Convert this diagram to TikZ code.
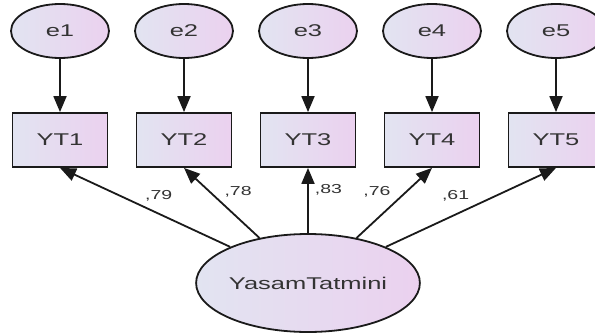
\documentclass[tikz,border=0pt]{standalone}
\usepackage{fontspec}
\newfontfamily\amosfont[FakeStretch=1.5]{Liberation Sans}
\usetikzlibrary{shapes.geometric,arrows.meta}
\definecolor{amosleft}{HTML}{E2E4F1}
\definecolor{amosright}{HTML}{EBD1EF}
\definecolor{amosline}{HTML}{1A1A1A}
\definecolor{amostext}{HTML}{333333}

\begin{document}
\begin{tikzpicture}[x = 1pt, y = 1pt, node distance = 124pt,
  err/.style = {ellipse, draw = amosline, line width = 1.8pt,
    left color = amosleft, right color = amosright, inner sep = 0pt,
    minimum width = 98pt, minimum height = 54pt, text = amostext,
    font = \amosfont\fontsize{17}{20}\selectfont},
  obs/.style = {rectangle, draw = amosline, line width = 1.8pt,
    left color = amosleft, right color = amosright, inner sep = 0pt,
    minimum width = 95pt, minimum height = 54pt, text = amostext,
    font = \amosfont\fontsize{17}{20}\selectfont},
  lat/.style = {ellipse, draw = amosline, line width = 1.8pt,
    left color = amosleft, right color = amosright, inner sep = 0pt,
    minimum width = 196pt, minimum height = 98pt, text = amostext,
    font = \amosfont\fontsize{17}{20}\selectfont},
  regr/.style = {-{Triangle[length = 16pt, width = 13pt]},
    line width = 1.8pt, draw = amosline},
  load/.style = {inner sep = 0pt, text = amostext,
    font = \amosfont\fontsize{13}{15}\selectfont}]
  \useasboundingbox (0,0) rectangle (595,-335);

  % error terms
  \node [err] (e1) at (60,-31) {e1};
  \node [right of = e1, err] (e2) {e2};
  \node [right of = e2, err] (e3) {e3};
  \node [right of = e3, err] (e4) {e4};
  \node [right of = e4, err] (e5) {e5};

  % indicators
  \node [below of = e1, node distance = 109pt, obs] (YT1) {YT1};
  \node [right of = YT1, obs] (YT2) {YT2};
  \node [right of = YT2, obs] (YT3) {YT3};
  \node [right of = YT3, obs] (YT4) {YT4};
  \node [right of = YT4, obs] (YT5) {YT5};

  % latent factor
  \node [below of = YT3, node distance = 143pt, lat] (YT) {YasamTatmini};

  \draw [regr] (e1) -- (YT1);
  \draw [regr] (e2) -- (YT2);
  \draw [regr] (e3) -- (YT3);
  \draw [regr] (e4) -- (YT4);
  \draw [regr] (e5) -- (YT5);

  \draw [regr] (YT) -- (YT1.south)
    node [load, pos = .42, above = 12pt] (l1) {,79};
  \draw [regr] (YT) -- (YT2.south)
    node [load, pos = .66, right = 14pt] (l2) {,78};
  \draw [regr] (YT) -- (YT3.south)
    node [load, pos = .67, right = 6pt] (l3) {,83};
  \draw [regr] (YT) -- (YT4.south)
    node [load, pos = .66, left = 15pt] (l4) {,76};
  \draw [regr] (YT) -- (YT5.south)
    node [load, pos = .41, above = 12pt] (l5) {,61};
\end{tikzpicture}
\end{document}
